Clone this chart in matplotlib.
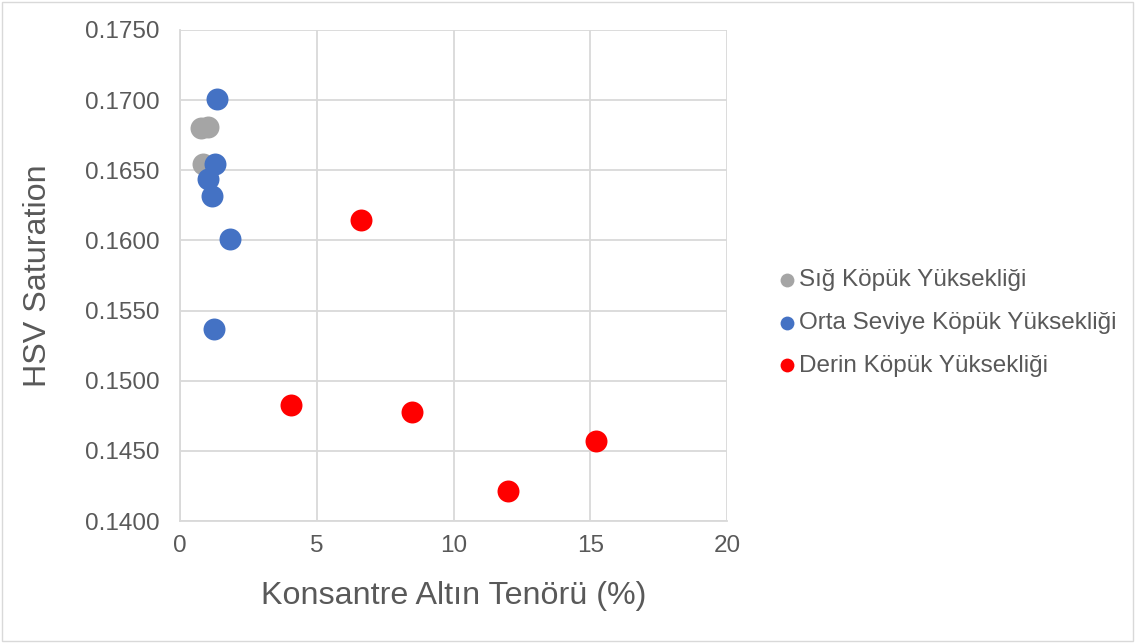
import matplotlib.pyplot as plt
from matplotlib.patches import Rectangle

plt.rcParams['font.family'] = ['Liberation Sans', 'DejaVu Sans']

# data
sig_x = [0.77, 1.02, 0.84]
sig_y = [0.16801, 0.16809, 0.16545]
orta_x = [1.35, 1.28, 1.02, 1.17, 1.83, 1.24]
orta_y = [0.17008, 0.16545, 0.16438, 0.16317, 0.16010, 0.15369]
derin_x = [6.62, 4.06, 8.48, 11.99, 15.21]
derin_y = [0.16146, 0.14829, 0.14779, 0.14214, 0.14571]

labels = ['Sığ Köpük Yüksekliği', 'Orta Seviye Köpük Yüksekliği', 'Derin Köpük Yüksekliği']
colors = ['#a5a5a5', '#4472c4', '#ff0000']
txt = '#595959'

fig = plt.figure(figsize=(11.35, 6.43), dpi=100)
ax = fig.add_axes([180/1135, 1 - 521/643, (727-180)/1135, (521-30)/643])

for xs, ys, c, lab in zip([sig_x, orta_x, derin_x], [sig_y, orta_y, derin_y], colors, labels):
    ax.scatter(xs, ys, s=250, color=c, label=lab, zorder=3, linewidths=0)

ax.set_xlim(0, 20)
ax.set_ylim(0.14, 0.175)
ax.set_xticks([0, 5, 10, 15, 20])
ax.set_yticks([0.14 + 0.005*i for i in range(8)])
ax.set_yticklabels(['%.4f' % (0.14 + 0.005*i) for i in range(8)])
ax.grid(True, color='#d9d9d9', linewidth=1.3)
ax.set_axisbelow(True)
for s in ['top', 'right']:
    ax.spines[s].set_visible(False)
for s in ['left', 'bottom']:
    ax.spines[s].set_color('#d9d9d9')
    ax.spines[s].set_linewidth(1.3)
ax.tick_params(length=0, labelsize=17.5, colors=txt)
ax.tick_params(axis='y', pad=15)
ax.tick_params(axis='x', pad=10)
ax.set_xlabel('Konsantre Altın Tenörü (%)', fontsize=23.2, color=txt)
ax.set_ylabel('HSV Saturation', fontsize=23.2, color=txt)
ax.xaxis.set_label_coords(0.5, -0.122)
ax.yaxis.set_label_coords(-0.233, 0.5)

leg = ax.legend(loc='center left', bbox_to_anchor=(1.088, 0.403), frameon=False,
                fontsize=17.5, labelcolor=txt, handletextpad=0.0, markerscale=0.63,
                handlelength=1.0, labelspacing=0.85, borderaxespad=0, borderpad=0)

fig.patches.append(Rectangle((2/1135, 2/643), 1 - 4/1135, 1 - 4/643, transform=fig.transFigure,
                             fill=False, edgecolor='#d9d9d9', linewidth=1))

fig.savefig('out.png', dpi=100)
